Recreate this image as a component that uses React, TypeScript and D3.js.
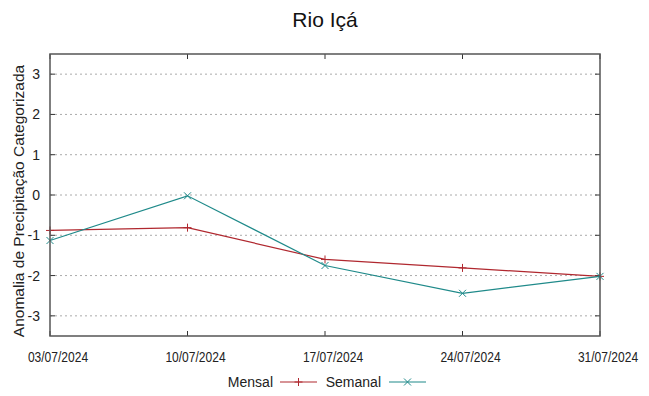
import React from 'react';
import * as d3 from 'd3';

const dates = ['03/07/2024', '10/07/2024', '17/07/2024', '24/07/2024', '31/07/2024'];
const mensal = [-0.88, -0.81, -1.6, -1.81, -2.02];
const semanal = [-1.13, -0.02, -1.75, -2.44, -2.02];
const yTicks = [-3, -2, -1, 0, 1, 2, 3];

const width = 649;
const height = 396;
const margin = { top: 54, right: 49, bottom: 60, left: 50 };

const font = '"Liberation Sans", Arial, sans-serif';

function App() {
	const parse = d3.timeParse('%d/%m/%Y');
	const x = d3
		.scaleTime()
		.domain([parse(dates[0]), parse(dates[dates.length - 1])])
		.range([margin.left, width - margin.right]);
	const y = d3.scaleLinear().domain([-3.5, 3.5]).range([height - margin.bottom, margin.top]);

	const line = d3
		.line()
		.x((d, i) => x(parse(dates[i])))
		.y(d => y(d));

	const red = '#b0282f';
	const teal = '#1f8a8a';

	const plus = (cx, cy, color, key) => (
		<g key={key} stroke={color} strokeWidth={1}>
			<line x1={cx - 4} x2={cx + 4} y1={cy} y2={cy} />
			<line x1={cx} x2={cx} y1={cy - 4} y2={cy + 4} />
		</g>
	);
	const cross = (cx, cy, color, key) => (
		<g key={key} stroke={color} strokeWidth={1}>
			<line x1={cx - 3.5} x2={cx + 3.5} y1={cy - 3.5} y2={cy + 3.5} />
			<line x1={cx - 3.5} x2={cx + 3.5} y1={cy + 3.5} y2={cy - 3.5} />
		</g>
	);

	const x0 = margin.left;
	const x1 = width - margin.right;
	const y0 = margin.top;
	const y1 = height - margin.bottom;

	return (
		<svg width={width} height={height} style={{ position: 'absolute', left: 0, top: 0 }}>
			<rect width={width} height={height} fill="#fff" />
			<text x={325} y={27} textAnchor="middle" fontFamily={font} fontSize={21} fill="#111">
				Rio Içá
			</text>

			{yTicks.map(t => (
				<g key={t}>
					<line x1={x0} x2={x1} y1={y(t)} y2={y(t)} stroke="#aaa" strokeWidth={1} strokeDasharray="2,3" />
					<line x1={x0} x2={x0 + 5} y1={y(t)} y2={y(t)} stroke="#333" />
					<line x1={x1 - 5} x2={x1} y1={y(t)} y2={y(t)} stroke="#333" />
					<text x={x0 - 10} y={y(t) + 5} textAnchor="end" fontFamily={font} fontSize={14} fill="#222">
						{t}
					</text>
				</g>
			))}

			{dates.map(dt => (
				<g key={dt}>
					<line x1={x(parse(dt))} x2={x(parse(dt))} y1={y1} y2={y1 - 5} stroke="#333" />
					<line x1={x(parse(dt))} x2={x(parse(dt))} y1={y0} y2={y0 + 5} stroke="#333" />
					<text
						transform={`translate(${x(parse(dt)) + 8},${y1 + 25.5}) scale(0.86,1)`}
						textAnchor="middle"
						fontFamily={font}
						fontSize={14}
						fill="#222"
					>
						{dt}
					</text>
				</g>
			))}

			<path d={line(mensal)} fill="none" stroke={red} strokeWidth={1.2} />
			{mensal.map((v, i) => plus(x(parse(dates[i])), y(v), red, 'm' + i))}
			<path d={line(semanal)} fill="none" stroke={teal} strokeWidth={1.2} />
			{semanal.map((v, i) => cross(x(parse(dates[i])), y(v), teal, 's' + i))}

			<rect x={x0} y={y0} width={x1 - x0} height={y1 - y0} fill="none" stroke="#555" strokeWidth={1.5} />

			<text
				transform={`translate(24,201) rotate(-90)`}
				textAnchor="middle"
				fontFamily={font}
				fontSize={15.5}
				fill="#222"
			>
				Anomalia de Precipitação Categorizada
			</text>

			<text x={273} y={387} textAnchor="end" fontFamily={font} fontSize={14} fill="#222">
				Mensal
			</text>
			<line x1={280} x2={317} y1={382} y2={382} stroke={red} strokeWidth={1.2} />
			{plus(298.5, 382, red, 'lm')}
			<text x={381} y={387} textAnchor="end" fontFamily={font} fontSize={14} fill="#222">
				Semanal
			</text>
			<line x1={389} x2={426} y1={382} y2={382} stroke={teal} strokeWidth={1.2} />
			{cross(407.5, 382, teal, 'ls')}
		</svg>
	);
}

export default App;
